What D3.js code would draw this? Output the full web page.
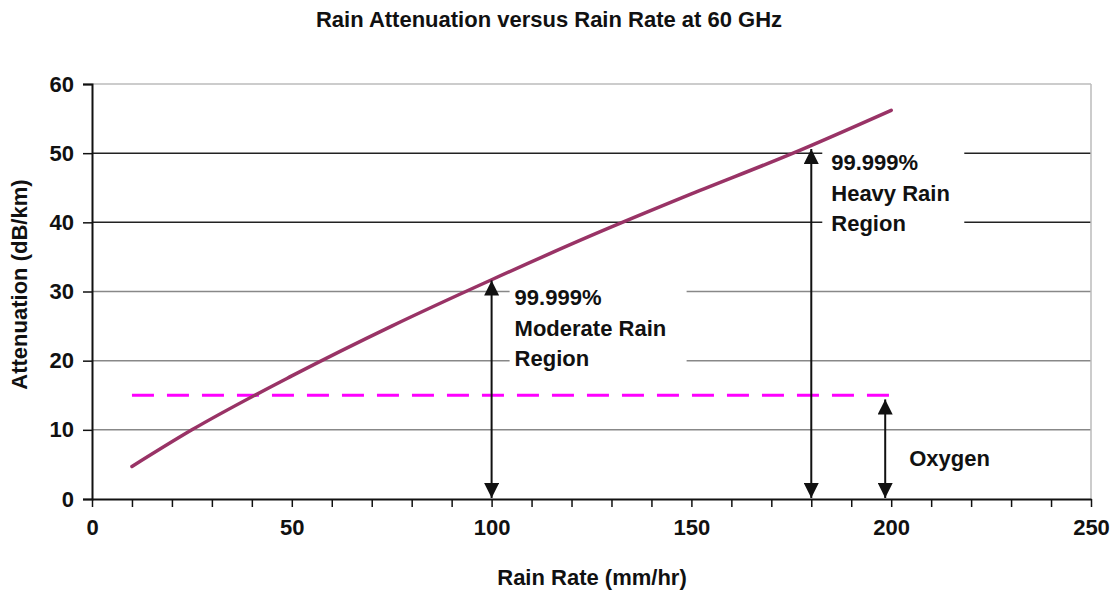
<!DOCTYPE html>
<html>
<head>
<meta charset="utf-8">
<script src="https://cdn.jsdelivr.net/npm/d3@7"></script>
<style>
  body { margin: 0; background: #fff; }
  svg text { font-family: 'Liberation Sans', Arial, sans-serif; font-weight: bold; fill: #111; }
</style>
</head>
<body>
<div class="chart"></div>
<script>
// rain rate (mm/hr) vs attenuation (dB/km)
const rainRate = [10, 25, 50, 75, 100, 125, 150, 175, 200];
const attenuation = [4.7, 10.0, 17.8, 25.0, 31.7, 38.1, 44.1, 49.9, 56.2];

// oxygen absorption level and its extent
const oxygenLevel = 15;
const oxygenRange = [10, 200];

const xTickLabels = [0, 50, 100, 150, 200, 250];
const xMinorTicks = d3.range(0, 251, 10);
const yTickLabels = [0, 10, 20, 30, 40, 50, 60];

// double headed arrows: x position, top value
const arrowX = [100, 180, 198.5];
const arrowTop = [31.6, 50.6, 14.4];

const noteLines = [
  ['99.999%', 'Moderate Rain', 'Region'],
  ['99.999%', 'Heavy Rain', 'Region'],
  ['Oxygen'],
];

const width = 1119, height = 592;
const margin = { top: 84, right: 28, bottom: 93, left: 92 };

const svg = d3.select('.chart').append('svg')
  .attr('width', width)
  .attr('height', height);

const x = d3.scaleLinear()
  .domain([0, 250])
  .range([margin.left, width - margin.right]);

const y = d3.scaleLinear()
  .domain([0, 60])
  .range([height - margin.bottom, margin.top]);

// title
svg.append('text')
  .attr('x', 549).attr('y', 27)
  .attr('text-anchor', 'middle')
  .style('font-size', '22px')
  .text('Rain Attenuation versus Rain Rate at 60 GHz');

// gridlines
svg.append('g')
  .selectAll('line')
  .data(yTickLabels.filter(d => d > 0))
  .enter()
  .append('line')
  .attr('x1', x(0)).attr('x2', x(250))
  .attr('y1', d => y(d)).attr('y2', d => y(d))
  .attr('stroke', d => d === 60 ? '#bbb' : (d >= 40 ? '#222' : '#888'))
  .attr('stroke-width', 1.5);

// right border
svg.append('line')
  .attr('x1', x(250)).attr('x2', x(250))
  .attr('y1', y(60)).attr('y2', y(0))
  .attr('stroke', '#bbb').attr('stroke-width', 1.5);

// white boxes behind the region notes
const boxes = [
  { x0: x(arrowX[0]) + 18, x1: x(arrowX[0]) + 195, y0: 32.5, y1: 16 },
  { x0: x(arrowX[1]) + 11, x1: x(arrowX[1]) + 153, y0: 51.3, y1: 36 },
];
svg.append('g')
  .selectAll('rect')
  .data(boxes)
  .enter()
  .append('rect')
  .attr('x', d => d.x0)
  .attr('width', d => d.x1 - d.x0)
  .attr('y', d => y(d.y0))
  .attr('height', d => y(d.y1) - y(d.y0))
  .attr('fill', '#fff');

// axes
const yAxis = d3.axisLeft(y)
  .tickValues(yTickLabels)
  .tickSize(9)
  .tickPadding(9);

const gy = svg.append('g')
  .attr('transform', `translate(${x(0)},0)`)
  .call(yAxis);
gy.select('.domain').attr('stroke', '#111').attr('stroke-width', 2);
gy.selectAll('.tick line').attr('stroke', '#111').attr('stroke-width', 1.5);
gy.selectAll('text').style('font-size', '22px').style('font-family', null);

const xAxis = d3.axisBottom(x)
  .tickValues(xMinorTicks)
  .tickSize(8)
  .tickSizeOuter(0)
  .tickFormat(d => xTickLabels.includes(d) ? d : '')
  .tickPadding(12);

const gx = svg.append('g')
  .attr('transform', `translate(0,${y(0)})`)
  .call(xAxis);
gx.select('.domain').attr('stroke', '#111').attr('stroke-width', 2);
gx.selectAll('.tick line').attr('stroke', '#111').attr('stroke-width', 1.5);
gx.selectAll('text').style('font-size', '22px').style('font-family', null);

// axis titles
svg.append('text')
  .attr('transform', `translate(27,${y(31)}) rotate(-90)`)
  .attr('text-anchor', 'middle')
  .style('font-size', '22px')
  .text('Attenuation (dB/km)');

svg.append('text')
  .attr('x', 592).attr('y', 585)
  .attr('text-anchor', 'middle')
  .style('font-size', '22px')
  .text('Rain Rate (mm/hr)');

// oxygen dashed line
svg.append('line')
  .attr('x1', x(oxygenRange[0])).attr('x2', x(oxygenRange[1]))
  .attr('y1', y(oxygenLevel)).attr('y2', y(oxygenLevel))
  .attr('stroke', '#ff00ff')
  .attr('stroke-width', 3)
  .attr('stroke-dasharray', '22,13');

// attenuation curve
const line = d3.line()
  .x(d => x(d[0]))
  .y(d => y(d[1]))
  .curve(d3.curveMonotoneX);

svg.append('path')
  .datum(d3.zip(rainRate, attenuation))
  .attr('d', line)
  .attr('fill', 'none')
  .attr('stroke', '#993366')
  .attr('stroke-width', 3.5)
  .attr('stroke-linecap', 'round');

// arrows
svg.append('defs').append('marker')
  .attr('id', 'head')
  .attr('viewBox', '0 0 10 10')
  .attr('refX', 10).attr('refY', 5)
  .attr('markerWidth', 8).attr('markerHeight', 7.5)
  .attr('markerUnits', 'strokeWidth')
  .attr('orient', 'auto-start-reverse')
  .append('path')
  .attr('d', 'M0,0 L10,5 L0,10 z')
  .attr('fill', '#111');

svg.append('g')
  .selectAll('line')
  .data(d3.zip(arrowX, arrowTop))
  .enter()
  .append('line')
  .attr('x1', d => x(d[0])).attr('x2', d => x(d[0]))
  .attr('y1', d => y(0) - 1).attr('y2', d => y(d[1]))
  .attr('stroke', '#111')
  .attr('stroke-width', 2)
  .attr('marker-start', 'url(#head)')
  .attr('marker-end', 'url(#head)');

// notes
const notePos = [
  { x: x(arrowX[0]) + 23, y: 305 },
  { x: x(arrowX[1]) + 20, y: 170 },
  { x: x(arrowX[2]) + 24, y: 466 },
];
noteLines.forEach((lines, i) => {
  const t = svg.append('text')
    .attr('x', notePos[i].x)
    .attr('y', notePos[i].y)
    .style('font-size', '22px');
  lines.forEach((s, j) => {
    t.append('tspan')
      .attr('x', notePos[i].x)
      .attr('dy', j === 0 ? 0 : 30.5)
      .text(s);
  });
});
</script>
</body>
</html>
